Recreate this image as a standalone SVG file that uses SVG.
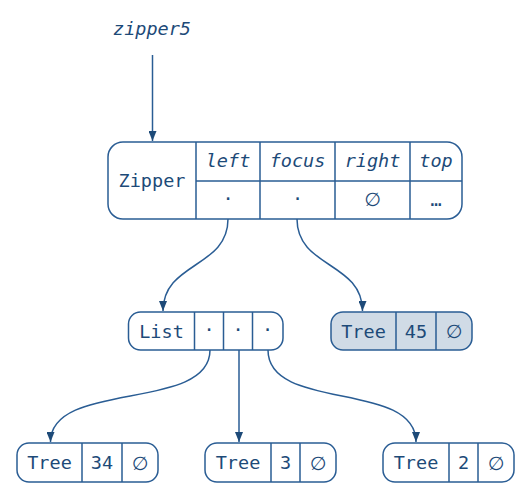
<svg xmlns="http://www.w3.org/2000/svg" width="531" height="494" viewBox="0 0 531 494">
<style>
.box{fill:#ffffff;stroke:#2a5d94;stroke-width:1.5}
.hl{fill:#d0dbe6}
.ln{stroke:#2a5d94;stroke-width:1.5;fill:none}
text{font-family:"DejaVu Sans Mono","Liberation Mono",monospace;font-size:18.5px;fill:#1d4a78;text-anchor:middle;dominant-baseline:central}
.it{font-style:italic}
.em{font-family:"DejaVu Sans","Noto Sans",sans-serif;font-size:19px}
</style>
<defs>
<marker id="arr" viewBox="0 0 10 8" refX="10" refY="4" markerWidth="10" markerHeight="8" markerUnits="userSpaceOnUse" orient="auto">
<path d="M0,0 L10,4 L0,8 z" fill="#1d4a78"/>
</marker>
</defs>
<rect width="531" height="494" fill="#ffffff"/>
<g id="label-zipper5">
<text class="it" x="152" y="28">zipper5</text>
</g>
<g id="node-zipper">
<rect class="box" x="108" y="142" width="354" height="77" rx="15"/>
<path class="ln" d="M196,142V219M260,142V219M335,142V219M410,142V219M196,181H462"/>
<text x="152" y="180.5">Zipper</text>
<text class="it" x="228" y="160.5">left</text>
<text class="it" x="297.5" y="160.5">focus</text>
<text class="it" x="372.5" y="160.5">right</text>
<text class="it" x="436" y="160.5">top</text>
<text x="228" y="198">·</text>
<text x="297.5" y="198">·</text>
<text class="em" x="372.5" y="199">∅</text>
<text x="436" y="199">…</text>
</g>
<g id="node-list">
<rect class="box" x="128.5" y="312" width="154.5" height="38" rx="12"/>
<path class="ln" d="M194.5,312V350M223.5,312V350M252.5,312V350"/>
<text x="161.5" y="331">List</text>
<text x="209" y="329">·</text>
<text x="238" y="329">·</text>
<text x="267.5" y="329">·</text>
</g>
<g id="node-tree45">
<rect class="box hl" x="331" y="312" width="141" height="38" rx="12"/>
<path class="ln" d="M396,312V350M436,312V350"/>
<text x="363.5" y="331">Tree</text>
<text x="416" y="331">45</text>
<text class="em" x="454" y="331">∅</text>
</g>
<g id="node-tree34">
<rect class="box" x="17" y="443" width="141" height="39" rx="12"/>
<path class="ln" d="M82,443V482M122,443V482"/>
<text x="49.5" y="462.5">Tree</text>
<text x="102" y="462.5">34</text>
<text class="em" x="140" y="462.5">∅</text>
</g>
<g id="node-tree3">
<rect class="box" x="205" y="443" width="131" height="39" rx="12"/>
<path class="ln" d="M271,443V482M300,443V482"/>
<text x="238" y="462.5">Tree</text>
<text x="285.5" y="462.5">3</text>
<text class="em" x="318" y="462.5">∅</text>
</g>
<g id="node-tree2">
<rect class="box" x="383" y="443" width="131" height="39" rx="12"/>
<path class="ln" d="M449,443V482M478,443V482"/>
<text x="416" y="462.5">Tree</text>
<text x="463.5" y="462.5">2</text>
<text class="em" x="496" y="462.5">∅</text>
</g>
<g id="connectors" class="ln">
<path class="ln" d="M152.5,55V141" marker-end="url(#arr)"/>
<path class="ln" d="M228,219C228,268 163,262 163,311" marker-end="url(#arr)"/>
<path class="ln" d="M297,219C297,268 362.5,262 362.5,311" marker-end="url(#arr)"/>
<path class="ln" d="M210,350C210,412 50.5,380 50.5,442" marker-end="url(#arr)"/>
<path class="ln" d="M239,350V442" marker-end="url(#arr)"/>
<path class="ln" d="M268,350C268,412 416,380 416,442" marker-end="url(#arr)"/>
</g>
</svg>
